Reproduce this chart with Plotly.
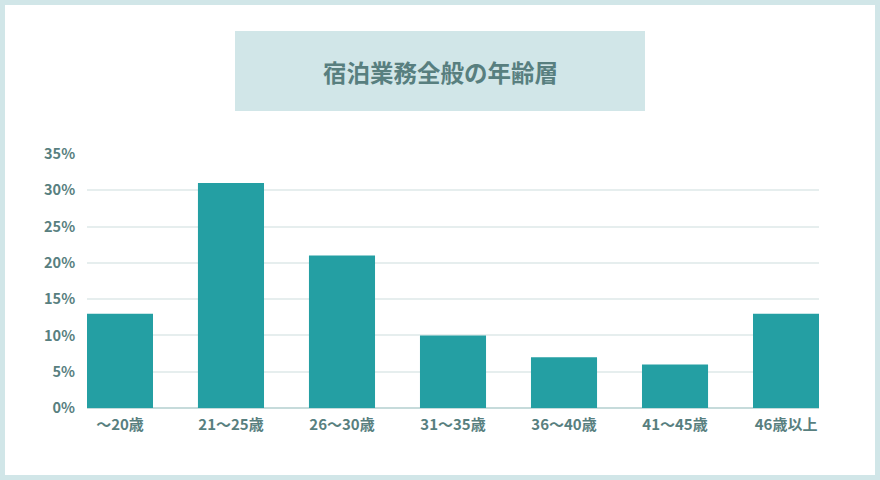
import plotly.graph_objects as go

# data ---------
age_groups = ["〜20歳", "21〜25歳", "26〜30歳", "31〜35歳", "36〜40歳", "41〜45歳", "46歳以上"]
share = [13, 31, 21, 10, 7, 6, 13]
y_ticks = [0, 5, 10, 15, 20, 25, 30, 35]
y_tick_labels = [f"{v}%" for v in y_ticks]
title_text = "宿泊業務全般の年齢層"

bar_color = "#249fa3"
text_color = "#587f7f"
frame_color = "#d1e6e8"
font_family = "Noto Sans CJK JP"

W, H = 880, 480
L, R, T, B = 87, 61, 154, 72
pw, ph = W - L - R, H - T - B

def px_x(x):
    return (x - L) / pw

def px_y(y):
    return (H - B - y) / ph

fig = go.Figure()
fig.add_trace(go.Bar(
    x = age_groups,
    y = share,
    marker = dict(color = bar_color, line = dict(width = 0)),
    hovertemplate = "%{x}: %{y}%<extra></extra>"
))

fig.update_layout(
    width = W,
    height = H,
    margin = dict(l = L, r = R, t = T, b = B),
    paper_bgcolor = frame_color,
    plot_bgcolor = "rgba(0,0,0,0)",
    bargap = 0.405,
    showlegend = False,
    font = dict(family = font_family, color = text_color),
    xaxis = dict(
        range = [-0.297, 6.297],
        showgrid = False,
        showline = False,
        tickfont = dict(size = 15, family = font_family, weight = "bold", color = text_color),
        ticks = "outside",
        ticklen = 3,
        tickcolor = "rgba(0,0,0,0)",
        fixedrange = True
    ),
    yaxis = dict(
        range = [0, 35],
        tickvals = y_ticks,
        ticktext = y_tick_labels,
        showgrid = True,
        gridcolor = "#e6eeee",
        gridwidth = 1.5,
        zeroline = True,
        zerolinecolor = "#c6dbdb",
        zerolinewidth = 1.5,
        tickfont = dict(size = 14.5, family = font_family, weight = "bold", color = text_color),
        ticks = "outside",
        ticklen = 8,
        tickcolor = "rgba(0,0,0,0)",
        fixedrange = True
    ),
    shapes = [
        # white card inside the frame
        dict(type = "rect", xref = "paper", yref = "paper", layer = "below",
             x0 = px_x(5), x1 = px_x(875), y0 = px_y(475), y1 = px_y(5),
             fillcolor = "white", line = dict(width = 0)),
        # title box
        dict(type = "rect", xref = "paper", yref = "paper", layer = "below",
             x0 = px_x(235), x1 = px_x(645), y0 = px_y(111), y1 = px_y(31),
             fillcolor = frame_color, line = dict(width = 0))
    ],
    annotations = [
        dict(text = title_text, xref = "paper", yref = "paper",
             x = px_x(440), y = px_y(72), xanchor = "center", yanchor = "middle",
             showarrow = False,
             font = dict(size = 23.5, family = font_family, weight = "bold", color = text_color))
    ]
)

fig.write_html(
    "out.html",
    config = {"displayModeBar": False},
    post_script = "document.body.style.margin = '0';"
)
